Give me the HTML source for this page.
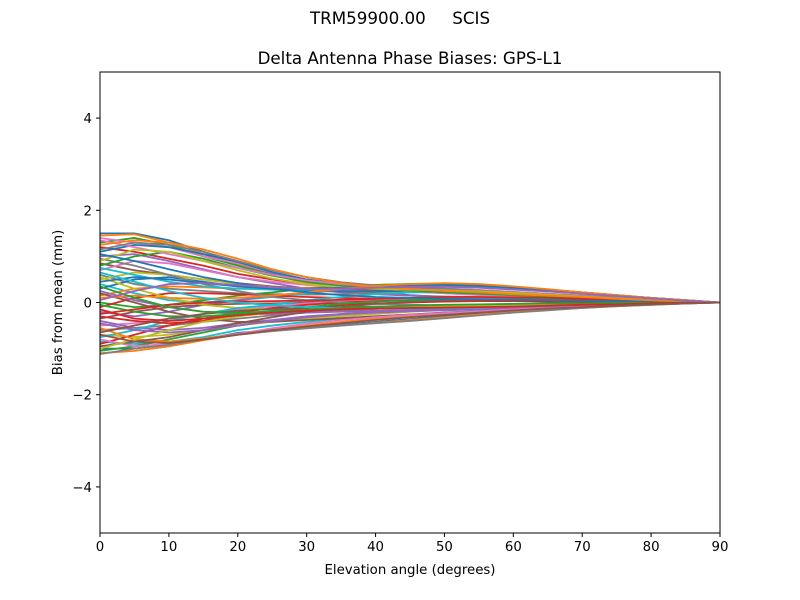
<!DOCTYPE html>
<html><head><meta charset="utf-8"><style>
html,body{margin:0;padding:0;background:#fff;}
svg{display:block;font-family:"DejaVu Sans","Liberation Sans",sans-serif;}
</style></head><body>
<svg id="chart" width="800" height="600" viewBox="0 0 800 600">
<rect width="800" height="600" fill="#fff"/>
<text x="400" y="24" text-anchor="middle" font-size="16.7" style="white-space:pre" xml:space="preserve">TRM59900.00     SCIS</text>
<text x="410" y="64" text-anchor="middle" font-size="16.7">Delta Antenna Phase Biases: GPS-L1</text>
<g id="lines"></g>
<g id="axes"></g>
<text x="410" y="574" text-anchor="middle" font-size="13.3">Elevation angle (degrees)</text>
<text transform="translate(62,302.5) rotate(-90)" text-anchor="middle" font-size="13.3">Bias from mean (mm)</text>
</svg>
<script>
const elevations=[0,5,10,15,20,25,30,35,40,45,50,55,60,65,70,75,80,85,90];
const xTicks=[0,10,20,30,40,50,60,70,80,90];
const yTicks=[-4,-2,0,2,4];
const yTickLabels=["\u22124","\u22122","0","2","4"];
const s1=[1.5,1.5,1.35,1.1,0.85,0.62,0.45,0.32,0.22,0.16,0.12,0.1,0.08,0.07,0.05,0.04,0.03,0.01,0];
const s2=[1.45,1.48,1.3,1.05,0.82,0.6,0.42,0.3,0.2,0.15,0.11,0.09,0.07,0.06,0.05,0.03,0.02,0.01,0];
const s3=[1.3,1.4,1.25,1.0,0.8,0.6,0.45,0.35,0.28,0.24,0.2,0.17,0.14,0.12,0.1,0.07,0.05,0.02,0];
const s4=[1.2,1.1,0.95,0.8,0.62,0.5,0.4,0.33,0.28,0.25,0.22,0.2,0.17,0.14,0.11,0.08,0.05,0.02,0];
const s5=[1.0,1.05,0.9,0.72,0.55,0.42,0.3,0.22,0.18,0.15,0.13,0.12,0.1,0.09,0.07,0.05,0.03,0.01,0];
const s6=[0.85,0.7,0.6,0.5,0.42,0.35,0.3,0.28,0.27,0.26,0.25,0.22,0.2,0.17,0.13,0.1,0.06,0.03,0];
const s7=[0.7,0.9,0.85,0.7,0.55,0.45,0.38,0.35,0.33,0.32,0.3,0.27,0.23,0.19,0.15,0.11,0.07,0.03,0];
const s8=[0.6,0.4,0.3,0.25,0.2,0.18,0.17,0.18,0.2,0.22,0.22,0.2,0.18,0.15,0.12,0.09,0.06,0.03,0];
const s9=[0.5,0.65,0.6,0.5,0.4,0.33,0.28,0.25,0.24,0.24,0.23,0.21,0.19,0.16,0.12,0.09,0.06,0.03,0];
const s10=[0.4,0.2,0.05,0.0,0.05,0.12,0.2,0.28,0.35,0.4,0.4,0.37,0.33,0.28,0.22,0.16,0.1,0.05,0];
const s11=[0.3,0.5,0.55,0.45,0.35,0.28,0.25,0.24,0.24,0.25,0.25,0.23,0.2,0.17,0.13,0.1,0.06,0.03,0];
const s12=[0.15,0.3,0.35,0.33,0.3,0.3,0.32,0.35,0.38,0.4,0.41,0.38,0.34,0.28,0.22,0.16,0.1,0.05,0];
const s13=[0.0,-0.1,-0.05,0.05,0.15,0.22,0.3,0.35,0.38,0.4,0.4,0.37,0.33,0.28,0.22,0.16,0.1,0.05,0];
const s14=[-0.1,0.1,0.2,0.2,0.18,0.15,0.12,0.1,0.08,0.06,0.05,0.04,0.03,0.02,0.01,0.0,0,0,0];
const s15=[-0.2,-0.3,-0.2,-0.05,0.05,0.15,0.22,0.28,0.32,0.35,0.35,0.33,0.3,0.25,0.2,0.15,0.1,0.05,0];
const s16=[-0.35,-0.2,-0.1,-0.05,-0.03,-0.02,0,0.02,0.05,0.08,0.1,0.1,0.1,0.09,0.08,0.06,0.04,0.02,0];
const s17=[-0.5,-0.45,-0.35,-0.25,-0.15,-0.08,-0.02,0.02,0.05,0.08,0.1,0.1,0.1,0.09,0.07,0.05,0.03,0.01,0];
const s18=[-0.6,-0.55,-0.5,-0.42,-0.35,-0.28,-0.22,-0.18,-0.14,-0.1,-0.08,-0.06,-0.04,-0.02,-0.01,0,0,0,0];
const s19=[-0.7,-0.75,-0.7,-0.6,-0.5,-0.42,-0.35,-0.3,-0.25,-0.2,-0.16,-0.12,-0.09,-0.06,-0.04,-0.02,-0.01,0,0];
const s20=[-0.85,-0.9,-0.85,-0.75,-0.6,-0.5,-0.42,-0.35,-0.3,-0.26,-0.22,-0.18,-0.15,-0.11,-0.08,-0.05,-0.03,-0.01,0];
const s21=[-1.0,-1.0,-0.9,-0.8,-0.66,-0.6,-0.55,-0.48,-0.42,-0.36,-0.3,-0.25,-0.2,-0.15,-0.11,-0.07,-0.04,-0.02,0];
const s22=[-1.1,-1.05,-0.95,-0.82,-0.7,-0.62,-0.55,-0.5,-0.44,-0.38,-0.32,-0.26,-0.21,-0.16,-0.12,-0.08,-0.05,-0.02,0];
const s23=[-1.05,-0.95,-0.8,-0.65,-0.5,-0.4,-0.32,-0.25,-0.2,-0.16,-0.13,-0.1,-0.08,-0.06,-0.04,-0.03,-0.02,-0.01,0];
const s24=[-0.9,-0.7,-0.5,-0.35,-0.22,-0.12,-0.05,0,0.03,0.05,0.06,0.06,0.05,0.05,0.04,0.03,0.02,0.01,0];
const s25=[-0.4,-0.55,-0.6,-0.55,-0.45,-0.38,-0.3,-0.25,-0.2,-0.17,-0.15,-0.13,-0.11,-0.09,-0.07,-0.05,-0.03,-0.01,0];
const s26=[0.2,0.0,-0.2,-0.35,-0.42,-0.42,-0.38,-0.34,-0.3,-0.26,-0.22,-0.19,-0.16,-0.12,-0.09,-0.06,-0.03,-0.01,0];
const s27=[1.4,1.3,1.2,1.0,0.85,0.65,0.5,0.38,0.3,0.25,0.2,0.16,0.13,0.1,0.08,0.06,0.04,0.02,0];
const s28=[0.95,0.8,0.6,0.4,0.25,0.12,0.05,0,-0.03,-0.05,-0.06,-0.06,-0.05,-0.04,-0.03,-0.02,-0.01,0,0];
const s29=[0.55,0.3,0.1,-0.05,-0.12,-0.15,-0.15,-0.14,-0.12,-0.1,-0.08,-0.07,-0.06,-0.05,-0.04,-0.03,-0.02,-0.01,0];
const s30=[-0.75,-0.6,-0.4,-0.25,-0.12,-0.05,0.05,0.12,0.18,0.22,0.24,0.23,0.21,0.18,0.14,0.1,0.06,0.03,0];
const s31=[1.1,1.25,1.2,1.05,0.88,0.66,0.5,0.4,0.32,0.27,0.23,0.2,0.17,0.14,0.11,0.08,0.05,0.02,0];
const s32=[-0.55,-0.8,-0.85,-0.78,-0.68,-0.6,-0.5,-0.42,-0.35,-0.3,-0.25,-0.2,-0.16,-0.12,-0.09,-0.06,-0.03,-0.01,0];
const s33=[0.8,1.0,1.1,0.95,0.75,0.58,0.45,0.36,0.3,0.26,0.22,0.19,0.16,0.13,0.1,0.07,0.05,0.02,0];
const s34=[-0.3,-0.4,-0.45,-0.4,-0.3,-0.2,-0.12,-0.06,-0.02,0.0,0.02,0.03,0.03,0.03,0.02,0.02,0.01,0,0];
const s35=[0.25,0.05,-0.1,-0.2,-0.25,-0.25,-0.22,-0.2,-0.18,-0.16,-0.14,-0.12,-0.1,-0.08,-0.06,-0.04,-0.02,-0.01,0];
const s36=[-0.95,-0.85,-0.75,-0.6,-0.45,-0.32,-0.2,-0.1,-0.03,0.02,0.05,0.06,0.06,0.05,0.04,0.03,0.02,0.01,0];
const s37=[1.35,1.2,1.05,0.9,0.75,0.6,0.48,0.4,0.35,0.32,0.3,0.27,0.23,0.19,0.15,0.11,0.07,0.03,0];
const s38=[1.15,1.3,1.25,1.1,0.9,0.7,0.55,0.44,0.37,0.33,0.3,0.26,0.22,0.18,0.14,0.1,0.06,0.03,0];
const s39=[0.9,1.15,1.1,0.9,0.7,0.52,0.4,0.33,0.3,0.28,0.26,0.24,0.21,0.17,0.13,0.09,0.06,0.03,0];
const s40=[0.75,0.6,0.45,0.35,0.3,0.28,0.28,0.3,0.33,0.36,0.37,0.35,0.31,0.26,0.2,0.15,0.09,0.04,0];
const s41=[0.45,0.55,0.5,0.42,0.35,0.3,0.3,0.32,0.35,0.38,0.38,0.36,0.32,0.27,0.21,0.15,0.09,0.04,0];
const s42=[0.1,0.15,0.1,0.08,0.1,0.15,0.22,0.3,0.36,0.4,0.42,0.4,0.35,0.29,0.22,0.16,0.1,0.05,0];
const s43=[-0.05,-0.2,-0.3,-0.3,-0.25,-0.18,-0.1,-0.03,0.02,0.05,0.07,0.07,0.07,0.06,0.05,0.04,0.02,0.01,0];
const s44=[-0.25,-0.15,-0.05,0.0,0.02,0.03,0.04,0.06,0.08,0.1,0.12,0.12,0.11,0.1,0.08,0.06,0.04,0.02,0];
const s45=[-0.45,-0.6,-0.65,-0.6,-0.5,-0.4,-0.32,-0.26,-0.22,-0.19,-0.17,-0.15,-0.12,-0.1,-0.07,-0.05,-0.03,-0.01,0];
const s46=[-0.65,-0.5,-0.35,-0.25,-0.18,-0.14,-0.12,-0.1,-0.09,-0.08,-0.07,-0.06,-0.05,-0.04,-0.03,-0.02,-0.01,0,0];
const s47=[-0.8,-0.95,-0.9,-0.8,-0.68,-0.56,-0.46,-0.38,-0.32,-0.27,-0.23,-0.19,-0.15,-0.12,-0.09,-0.06,-0.03,-0.01,0];
const s48=[-1.12,-1.0,-0.92,-0.8,-0.7,-0.62,-0.56,-0.5,-0.45,-0.4,-0.34,-0.28,-0.22,-0.17,-0.12,-0.08,-0.05,-0.02,0];
const s49=[-1.0,-0.8,-0.6,-0.42,-0.3,-0.22,-0.16,-0.12,-0.1,-0.09,-0.08,-0.07,-0.06,-0.05,-0.04,-0.03,-0.02,-0.01,0];
const s50=[0.65,0.45,0.25,0.1,0.0,-0.06,-0.1,-0.12,-0.13,-0.13,-0.12,-0.11,-0.09,-0.07,-0.05,-0.04,-0.02,-0.01,0];
const s51=[1.05,0.9,0.72,0.55,0.42,0.3,0.22,0.16,0.12,0.1,0.08,0.07,0.06,0.05,0.04,0.03,0.02,0.01,0];
const s52=[1.25,1.35,1.3,1.15,0.95,0.72,0.55,0.42,0.34,0.29,0.25,0.22,0.18,0.15,0.12,0.08,0.05,0.02,0];
const s53=[0.35,0.1,-0.1,-0.2,-0.22,-0.2,-0.16,-0.12,-0.09,-0.07,-0.05,-0.04,-0.03,-0.02,-0.02,-0.01,-0.01,0,0];
const s54=[-0.15,-0.35,-0.4,-0.35,-0.28,-0.22,-0.18,-0.15,-0.13,-0.12,-0.11,-0.1,-0.09,-0.07,-0.05,-0.04,-0.02,-0.01,0];
const s55=[0.05,0.25,0.4,0.42,0.38,0.33,0.3,0.3,0.32,0.34,0.34,0.32,0.28,0.24,0.19,0.14,0.09,0.04,0];
const s56=[-0.7,-0.85,-0.88,-0.8,-0.7,-0.6,-0.52,-0.45,-0.38,-0.32,-0.27,-0.22,-0.17,-0.13,-0.1,-0.07,-0.04,-0.02,0];
const series=[s1,s2,s3,s4,s5,s6,s7,s8,s9,s10,s11,s12,s13,s14,s15,s16,s17,s18,s19,s20,s21,s22,s23,s24,s25,s26,s27,s28,s29,s30,s31,s32,s33,s34,s35,s36,s37,s38,s39,s40,s41,s42,s43,s44,s45,s46,s47,s48,s49,s50,s51,s52,s53,s54,s55,s56];
const colors=["#1f77b4","#ff7f0e","#2ca02c","#d62728","#9467bd","#8c564b","#e377c2","#7f7f7f","#bcbd22","#17becf"];
const X0=100,X1=720,Y0=533,Y1=72;
function xs(v){return X0+(v-0)/(90-0)*(X1-X0);}
function ys(v){return Y0-(v-(-5))/(10)*(Y0-Y1);}
const NS="http://www.w3.org/2000/svg";
const lg=document.getElementById('lines');
series.forEach((s,i)=>{
  const p=document.createElementNS(NS,'polyline');
  p.setAttribute('points',s.map((v,j)=>xs(elevations[j]).toFixed(2)+','+ys(v).toFixed(2)).join(' '));
  p.setAttribute('fill','none');
  p.setAttribute('stroke',colors[i%10]);
  p.setAttribute('stroke-width','1.8');
  
  
  lg.appendChild(p);
});
const ax=document.getElementById('axes');
const fr=document.createElementNS(NS,'rect');
fr.setAttribute('x',X0);fr.setAttribute('y',Y1);fr.setAttribute('width',X1-X0);fr.setAttribute('height',Y0-Y1);
fr.setAttribute('fill','none');fr.setAttribute('stroke','#000');fr.setAttribute('stroke-width','1');


ax.appendChild(fr);
xTicks.forEach(t=>{
  const x=xs(t);
  const l=document.createElementNS(NS,'line');
  l.setAttribute('x1',x);l.setAttribute('x2',x);l.setAttribute('y1',Y0);l.setAttribute('y2',Y0+4);l.setAttribute('stroke','#000');
  
  
  ax.appendChild(l);
  const tx=document.createElementNS(NS,'text');
  tx.setAttribute('x',x);tx.setAttribute('y',Y0+18);tx.setAttribute('text-anchor','middle');tx.setAttribute('font-size','13.3');
  tx.textContent=t;
  
  
  ax.appendChild(tx);
});
yTicks.forEach((t,i)=>{
  const y=ys(t);
  const l=document.createElementNS(NS,'line');
  l.setAttribute('x1',X0-4);l.setAttribute('x2',X0);l.setAttribute('y1',y);l.setAttribute('y2',y);l.setAttribute('stroke','#000');
  
  
  ax.appendChild(l);
  const tx=document.createElementNS(NS,'text');
  tx.setAttribute('x',X0-8);tx.setAttribute('y',y+5);tx.setAttribute('text-anchor','end');tx.setAttribute('font-size','13.3');
  tx.textContent=yTickLabels[i];
  
  
  ax.appendChild(tx);
});
</script>
</body></html>
